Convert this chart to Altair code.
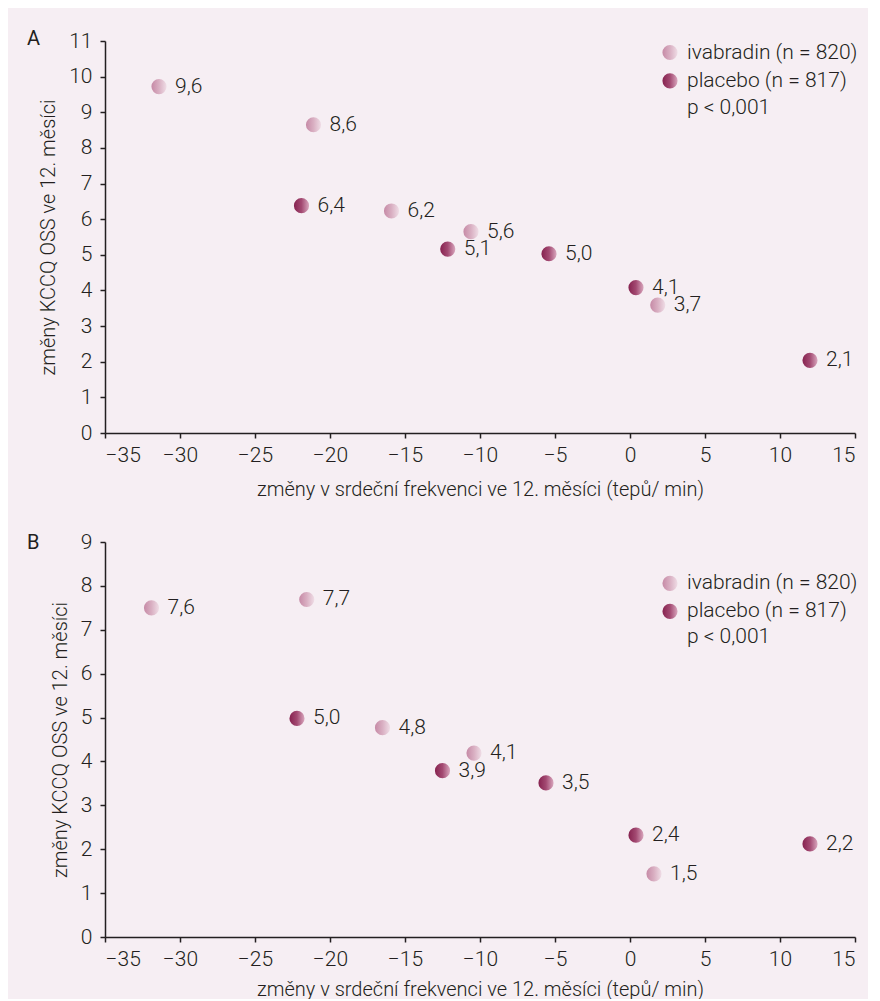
import altair as alt
import pandas as pd

# ---------------- data ----------------
x_ticks = [-35, -30, -25, -20, -15, -10, -5, 0, 5, 10, 15]

a_x = [-31.4, -21.1, -21.9, -15.9, -10.6, -12.15, -5.4, 0.4, 1.85, 12.0]
a_y = [9.72, 8.65, 6.38, 6.23, 5.65, 5.16, 5.03, 4.08, 3.59, 2.04]
a_lab = ["9,6", "8,6", "6,4", "6,2", "5,6", "5,1", "5,0", "4,1", "3,7", "2,1"]
a_grp = ["ivabradin", "ivabradin", "placebo", "ivabradin", "ivabradin",
         "placebo", "placebo", "placebo", "ivabradin", "placebo"]

b_x = [-31.9, -21.55, -22.2, -16.5, -10.4, -12.5, -5.6, 0.4, 1.6, 12.0]
b_y = [7.50, 7.69, 4.98, 4.77, 4.19, 3.79, 3.51, 2.32, 1.44, 2.12]
b_lab = ["7,6", "7,7", "5,0", "4,8", "4,1", "3,9", "3,5", "2,4", "1,5", "2,2"]
b_grp = ["ivabradin", "ivabradin", "placebo", "ivabradin", "ivabradin",
         "placebo", "placebo", "placebo", "ivabradin", "placebo"]

legend_labels = ["ivabradin (n = 820)", "placebo (n = 817)", "p < 0,001"]

x_title = "změny v srdeční frekvenci ve 12. měsíci (tepů/ min)"
y_title = "změny KCCQ OSS ve 12. měsíci"

# ---------------- style ----------------
FONT = "Roboto"
TXT = "#231f20"
BG = "#f6eef3"

grad_iva = alt.LinearGradient(
    gradient="linear", x1=0, x2=1, y1=0, y2=0,
    stops=[alt.GradientStop(color="#c68aa6", offset=0),
           alt.GradientStop(color="#d9afc2", offset=0.5),
           alt.GradientStop(color="#efdde6", offset=1)])
grad_pla = alt.LinearGradient(
    gradient="linear", x1=0, x2=1, y1=0, y2=0,
    stops=[alt.GradientStop(color="#86224f", offset=0),
           alt.GradientStop(color="#a34a72", offset=0.5),
           alt.GradientStop(color="#d9a7be", offset=1)])

PT_SIZE = 230
LBL = 21


def panel(xs, ys, labs, grps, ymax, letter, h, leg_y, xtp):
    df = pd.DataFrame({"x": xs, "y": ys, "lab": labs, "grp": grps})
    xenc = alt.X("x:Q",
                 scale=alt.Scale(domain=[-35, 15], nice=False, zero=False),
                 axis=alt.Axis(values=x_ticks, title=x_title, titlePadding=xtp))
    yenc = alt.Y("y:Q",
                 scale=alt.Scale(domain=[0, ymax], nice=False, zero=False),
                 axis=alt.Axis(values=list(range(ymax + 1)), title=y_title))
    base = alt.Chart(df).encode(x=xenc, y=yenc)
    iva = base.transform_filter(alt.datum.grp == "ivabradin").mark_circle(
        size=PT_SIZE, opacity=1, fill=grad_iva, strokeWidth=0)
    pla = base.transform_filter(alt.datum.grp == "placebo").mark_circle(
        size=PT_SIZE, opacity=1, fill=grad_pla, strokeWidth=0)
    txt = base.mark_text(align="left", baseline="middle", dx=16, fontSize=LBL,
                         font=FONT, fontWeight=300, color=TXT).encode(text="lab:N")

    one = pd.DataFrame({"t": [letter]})
    let = alt.Chart(one).mark_text(align="left", baseline="middle", fontSize=20,
                                   font=FONT, fontWeight=400, color=TXT).encode(
        x=alt.value(-78), y=alt.value(leg_y[3]), text="t:N")

    l1 = alt.Chart(pd.DataFrame({"t": [legend_labels[0]]}))
    l2 = alt.Chart(pd.DataFrame({"t": [legend_labels[1]]}))
    l3 = alt.Chart(pd.DataFrame({"t": [legend_labels[2]]}))
    c1 = l1.mark_circle(size=PT_SIZE, opacity=1, fill=grad_iva, strokeWidth=0).encode(
        x=alt.value(565), y=alt.value(leg_y[0]))
    c2 = l2.mark_circle(size=PT_SIZE, opacity=1, fill=grad_pla, strokeWidth=0).encode(
        x=alt.value(565), y=alt.value(leg_y[1]))
    tk = dict(align="left", baseline="middle", fontSize=LBL, font=FONT,
              fontWeight=300, color=TXT)
    t1 = l1.mark_text(**tk).encode(x=alt.value(582), y=alt.value(leg_y[0]), text="t:N")
    t2 = l2.mark_text(**tk).encode(x=alt.value(582), y=alt.value(leg_y[1]), text="t:N")
    t3 = l3.mark_text(**tk).encode(x=alt.value(582), y=alt.value(leg_y[2]), text="t:N")

    return alt.layer(iva, pla, txt, let, c1, c2, t1, t2, t3).properties(
        width=750, height=h)


pA = panel(a_x, a_y, a_lab, a_grp, 11, "A", 392, [11.5, 39.8, 66.5, -2.3], 14)
pB = panel(b_x, b_y, b_lab, b_grp, 9, "B", 395, [41.3, 69.3, 95.3, 1.3], 10)

chart = alt.vconcat(pA, pB, spacing=32).properties(
    padding={"left": 19, "top": 20, "right": 10, "bottom": 0}
).configure(background=BG).configure_view(strokeWidth=0).configure_axis(
    grid=False,
    domainColor=TXT, domainWidth=1.5,
    tickColor=TXT, tickWidth=1.5, tickSize=5,
    labelFont=FONT, labelFontSize=LBL, labelFontWeight=300, labelColor=TXT,
    titleFont=FONT, titleFontSize=20, titleFontWeight=300, titleColor=TXT,
).configure_axisX(labelPadding=6).configure_axisY(
    labelPadding=8, titlePadding=10)

chart.save("out.html", embed_options={"renderer": "svg", "actions": False})
